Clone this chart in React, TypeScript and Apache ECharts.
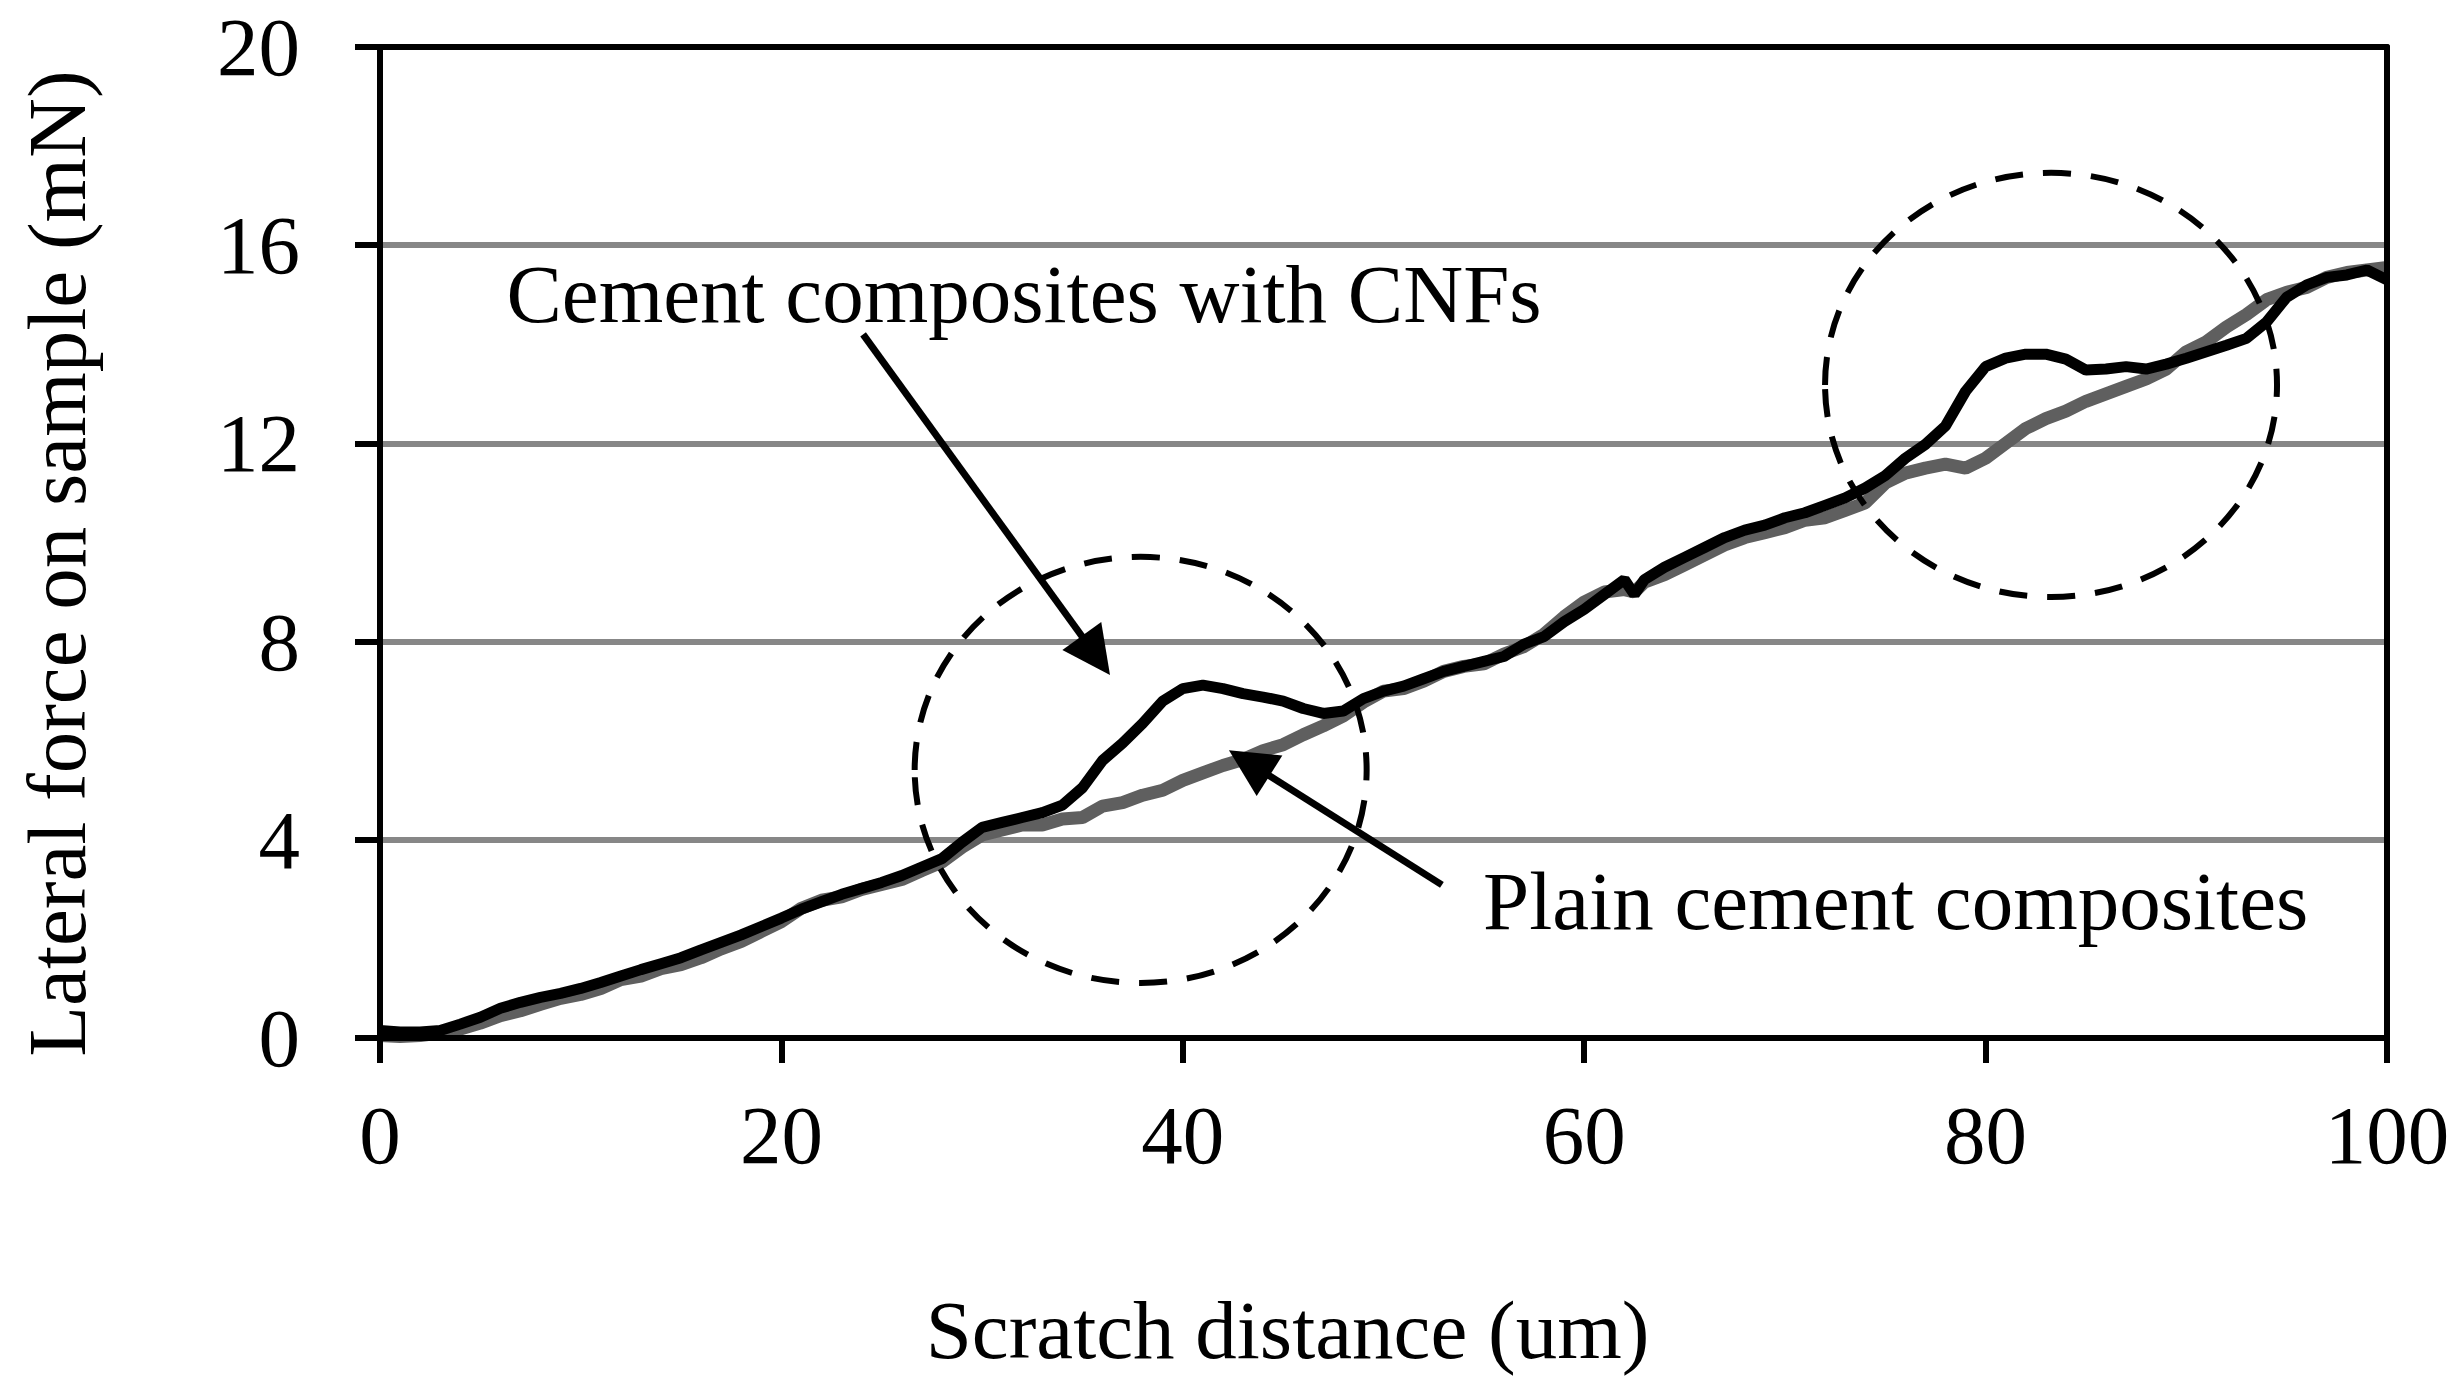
import React, { useEffect, useRef } from "react";
import * as echarts from "echarts";

const FONT = '"Liberation Serif", "Times New Roman", serif';

const distance = [
  0, 1, 2, 3, 4, 5, 6, 7, 8, 9, 10, 11, 12, 13, 14, 15, 16, 17, 18, 19, 20,
  21, 22, 23, 24, 25, 26, 27, 28, 29, 30, 31, 32, 33, 34, 35, 36, 37, 38, 39, 40,
  41, 42, 43, 44, 45, 46, 47, 48, 49, 50, 51, 52, 53, 54, 55, 56, 57, 58, 59, 60,
  61, 62, 62.5, 63, 64, 65, 66, 67, 68, 69, 70, 71, 72, 73, 74, 75, 76, 77, 78, 79, 80,
  81, 82, 83, 84, 85, 86, 87, 88, 89, 90, 91, 92, 93, 94, 95, 96, 97, 98, 99, 100,
];

const cnfForce = [
  0.15, 0.12, 0.12, 0.15, 0.28, 0.42, 0.6, 0.72, 0.82, 0.9, 1.0,
  1.12, 1.25, 1.38, 1.5, 1.62, 1.78, 1.93, 2.08, 2.25, 2.42,
  2.6, 2.75, 2.9, 3.02, 3.14, 3.28, 3.45, 3.62, 3.95, 4.25,
  4.35, 4.45, 4.55, 4.7, 5.05, 5.6, 5.95, 6.35, 6.8, 7.05,
  7.12, 7.05, 6.95, 6.88, 6.8, 6.65, 6.55, 6.6, 6.85, 7.0,
  7.1, 7.25, 7.4, 7.5, 7.6, 7.7, 7.95, 8.1, 8.4, 8.65,
  8.95, 9.25, 8.95, 9.25, 9.5, 9.7, 9.9, 10.1, 10.25, 10.35, 10.5,
  10.6, 10.75, 10.9, 11.1, 11.35, 11.7, 11.98, 12.35, 13.05, 13.55,
  13.72, 13.8, 13.8, 13.7, 13.48, 13.5, 13.55, 13.5, 13.6, 13.72,
  13.85, 13.98, 14.12, 14.45, 14.95, 15.2, 15.35, 15.4, 15.5, 15.3,
];

const plainForce = [
  0.05, 0.03, 0.05, 0.1, 0.18, 0.3, 0.45, 0.55, 0.68, 0.8, 0.88,
  1.0, 1.18, 1.25, 1.4, 1.48, 1.62, 1.8, 1.95, 2.15, 2.35,
  2.62, 2.78, 2.85, 3.0, 3.1, 3.2, 3.38, 3.55, 3.85, 4.1,
  4.2, 4.3, 4.3, 4.42, 4.45, 4.68, 4.75, 4.9, 5.0, 5.2,
  5.35, 5.5, 5.62, 5.8, 5.92, 6.12, 6.3, 6.5, 6.78, 7.0,
  7.05, 7.2, 7.4, 7.5, 7.55, 7.75, 7.9, 8.15, 8.5, 8.8,
  9.0, 9.05, 9.0, 9.2, 9.35, 9.55, 9.75, 9.95, 10.1, 10.2, 10.3,
  10.45, 10.5, 10.65, 10.8, 11.2, 11.4, 11.5, 11.58, 11.5, 11.7,
  12.0, 12.3, 12.5, 12.65, 12.85, 13.0, 13.15, 13.3, 13.5, 13.85,
  14.05, 14.35, 14.6, 14.9, 15.05, 15.15, 15.35, 15.45, 15.5, 15.55,
];

// Dashed highlight ellipses: [centre x, centre y, radius x, radius y] in data units
const highlightEllipses = [
  [37.9, 5.41, 11.26, 4.3],
  [83.26, 13.18, 11.26, 4.28],
];

// Annotation arrows: [from, to] in data units (to = centre of arrow head)
const arrowCnf = [[24.07, 14.2], [35.67, 7.72]];
const arrowPlain = [[52.91, 3.09], [43.31, 5.55]];

// Annotation label anchors (left, middle) in data units
const labelCnf = { text: "Cement composites with CNFs", at: [6.3, 15.02] };
const labelPlain = { text: "Plain cement composites", at: [54.96, 2.76] };

const xTitle = "Scratch distance (um)";
const yTitle = "Lateral force on sample (mN)";

export default function App() {
  const ref = useRef<HTMLDivElement>(null);

  useEffect(() => {
    if (!ref.current) return;
    const chart = echarts.init(ref.current, undefined, { renderer: "svg" });

    const axisLine = { show: true, onZero: false, lineStyle: { color: "#000", width: 6 } };
    const labelStyle = { fontFamily: FONT, fontSize: 83, color: "#000" };

    chart.setOption({
      animation: false,
      backgroundColor: "#fff",
      textStyle: { fontFamily: FONT },
      grid: { left: 380, right: 74, top: 47, bottom: 354, containLabel: false },
      xAxis: [
        {
          type: "value",
          min: 0,
          max: 100,
          interval: 20,
          position: "bottom",
          z: 3,
          axisLine,
          axisTick: { show: true, inside: false, length: 25, lineStyle: { color: "#000", width: 6 } },
          axisLabel: { ...labelStyle, margin: 55 },
          splitLine: { show: false },
          name: xTitle,
          nameLocation: "middle",
          nameGap: 250,
          nameTextStyle: { fontFamily: FONT, fontSize: 83, color: "#000", padding: [0, 192, 0, 0] },
        },
        {
          type: "value",
          min: 0,
          max: 100,
          position: "top",
          z: 3,
          axisLine,
          axisTick: { show: false },
          axisLabel: { show: false },
          splitLine: { show: false },
        },
      ],
      yAxis: [
        {
          type: "value",
          min: 0,
          max: 20,
          interval: 4,
          position: "left",
          axisLine,
          axisTick: { show: true, inside: false, length: 25, lineStyle: { color: "#000", width: 6 } },
          axisLabel: { ...labelStyle, margin: 80 },
          splitLine: { show: true, lineStyle: { color: "#878787", width: 6 } },
          name: yTitle,
          nameLocation: "middle",
          nameGap: 282,
          nameTextStyle: { fontFamily: FONT, fontSize: 83, color: "#000", padding: [0, 42, 0, 0] },
        },
        {
          type: "value",
          min: 0,
          max: 20,
          position: "right",
          z: 3,
          axisLine,
          axisTick: { show: false },
          axisLabel: { show: false },
          splitLine: { show: false },
        },
      ],
      series: [
        {
          name: "Plain cement composites",
          type: "line",
          showSymbol: false,
          data: distance.map((d, i) => [d, plainForce[i]]),
          lineStyle: { color: "#5f5f5f", width: 13 },
          itemStyle: { color: "#5f5f5f" },
          z: 2,
        },
        {
          name: "Cement composites with CNFs",
          type: "line",
          showSymbol: false,
          data: distance.map((d, i) => [d, cnfForce[i]]),
          lineStyle: { color: "#000", width: 11 },
          itemStyle: { color: "#000" },
          z: 3,
          markLine: {
            silent: true,
            symbol: ["none", "triangle"],
            symbolSize: [48, 48],
            lineStyle: { color: "#000", width: 7, type: "solid" },
            itemStyle: { color: "#000" },
            label: { show: false },
            emphasis: { disabled: true },
            data: [
              [{ coord: arrowCnf[0] }, { coord: arrowCnf[1] }],
              [{ coord: arrowPlain[0] }, { coord: arrowPlain[1] }],
            ],
          },
        },
        {
          name: "highlight",
          type: "custom",
          z: 4,
          silent: true,
          data: highlightEllipses,
          renderItem: (params: any, api: any) => {
            const c = api.coord([api.value(0), api.value(1)]);
            const s = api.size([api.value(2), api.value(3)]);
            return {
              type: "ellipse",
              shape: { cx: c[0], cy: c[1], rx: s[0], ry: s[1] },
              style: { fill: "none", stroke: "#000", lineWidth: 6, lineDash: [28, 20] },
            };
          },
        },
      ],
    });

    const p1 = chart.convertToPixel({ gridIndex: 0 }, labelCnf.at) as number[];
    const p2 = chart.convertToPixel({ gridIndex: 0 }, labelPlain.at) as number[];
    chart.setOption({
      graphic: [
        {
          type: "text",
          x: p1[0],
          y: p1[1],
          z: 10,
          style: { text: labelCnf.text, fontFamily: FONT, fontSize: 83, fill: "#000", align: "left", verticalAlign: "middle" },
        },
        {
          type: "text",
          x: p2[0],
          y: p2[1],
          z: 10,
          style: { text: labelPlain.text, fontFamily: FONT, fontSize: 83, fill: "#000", align: "left", verticalAlign: "middle" },
        },
      ],
    });

    return () => chart.dispose();
  }, []);

  return (
    <div
      ref={ref}
      style={{ position: "absolute", left: 0, top: 0, width: 2461, height: 1392, background: "#fff" }}
    />
  );
}
